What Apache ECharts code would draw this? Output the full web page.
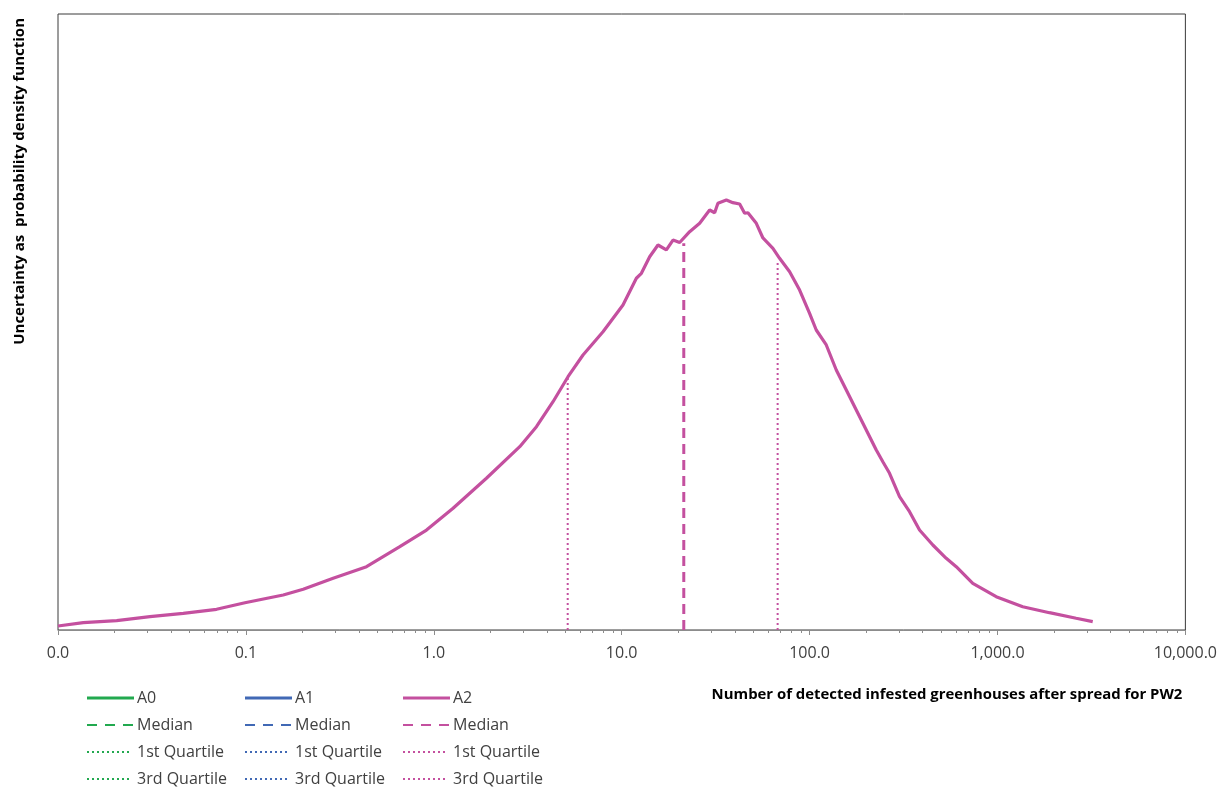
<!DOCTYPE html>
<html>
<head>
<meta charset="utf-8">
<script src="https://cdn.jsdelivr.net/npm/echarts@6/dist/echarts.min.js"></script>
<style>
  html, body { margin: 0; padding: 0; background: #ffffff; }
  #chart { width: 1220px; height: 787px; }
</style>
</head>
<body>
<div id="chart"></div>
<script>
// A2 uncertainty curve: number of detected infested greenhouses vs. relative density
const curveX = [
  0.0100, 0.01363, 0.02053, 0.03086, 0.0464, 0.0698, 0.0988, 0.158, 0.2018, 0.2913,
  0.4385, 0.6594, 0.9146, 1.2666, 1.906, 2.867, 3.518, 4.311, 5.18, 6.225,
  7.953, 10.16, 11.97, 12.73, 14.09, 15.60, 17.29, 18.75, 20.35, 23.00,
  26.00, 29.38, 31.24, 32.52, 36.06, 39.08, 42.44, 45.11, 46.97, 52.05,
  56.44, 63.8, 69.24, 78.3, 88.5, 100, 108.5, 122.7, 138.7, 156.8,
  177.2, 200.3, 226.4, 245.4, 266.4, 301.1, 340.4, 384.7, 452.8, 533.6,
  603.2, 738.9, 984.2, 1363, 1890, 2622, 3213
];
const curveY = [
  0.0065, 0.0119, 0.0151, 0.0216, 0.0271, 0.0336, 0.0443, 0.0568, 0.0661, 0.0839,
  0.1028, 0.1352, 0.1623, 0.1976, 0.2463, 0.2976, 0.3300, 0.3706, 0.4112, 0.4464,
  0.4843, 0.5276, 0.5710, 0.5790, 0.6060, 0.6250, 0.6170, 0.6330, 0.6290, 0.6466,
  0.6602, 0.6818, 0.6774, 0.6927, 0.6980, 0.6937, 0.6916, 0.6765, 0.6774, 0.6602,
  0.6364, 0.6196, 0.6034, 0.5817, 0.5519, 0.5141, 0.4870, 0.4627, 0.4221, 0.3896,
  0.3571, 0.3247, 0.2922, 0.2732, 0.2544, 0.2164, 0.1920, 0.1623, 0.1380, 0.1164,
  0.1028, 0.0758, 0.0541, 0.0378, 0.0281, 0.0190, 0.0135
];

// Median and quartile markers for A2 (position on x, height where the line stops)
const markerNames = ['Median', '1st Quartile', '3rd Quartile'];
const markerX = [21.4, 5.16, 67.6];
const markerTop = [0.628, 0.411, 0.596];

// Decade ticks and their printed labels
const tickValues = [0.01, 0.1, 1, 10, 100, 1000, 10000];
const tickLabels = ['0.0', '0.1', '1.0', '10.0', '100.0', '1,000.0', '10,000.0'];

const legendNames = ['A0', 'A1', 'A2'];
const legendColors = ['#22a94f', '#4169b5', '#c4509f'];
const legendRowLabels = ['', 'Median', '1st Quartile', '3rd Quartile'];

const FONT = '"Open Sans", Lato, "DejaVu Sans", sans-serif';
const TEXT = '#404040';
const AXIS = '#8c8c8c';
const A2 = legendColors[2];

function labelFor(v) {
  const i = tickValues.findIndex(t => Math.abs(Math.log10(t) - Math.log10(v)) < 1e-6);
  return i >= 0 ? tickLabels[i] : '';
}

// Legend drawn as a 3 x 4 block of swatches below the plot
const legendColX = [87, 245, 403];
const legendRowY = [698, 725, 752, 779];
const rowStyles = [
  { width: 3.2, dash: null, len: 47 },
  { width: 2, dash: [10, 8], len: 47 },
  { width: 2, dash: [2, 3], len: 44 },
  { width: 2, dash: [2, 3], len: 44 }
];
const legendGraphics = [];
legendColX.forEach((x0, c) => {
  legendRowY.forEach((y, r) => {
    const st = rowStyles[r];
    legendGraphics.push({
      type: 'line',
      shape: { x1: x0, y1: y, x2: x0 + st.len, y2: y },
      style: { stroke: legendColors[c], lineWidth: st.width, lineDash: st.dash || null }
    });
    legendGraphics.push({
      type: 'text',
      x: x0 + 50,
      y: y,
      style: {
        text: r === 0 ? legendNames[c] : legendRowLabels[r],
        fill: TEXT,
        font: '16px ' + FONT,
        align: 'left',
        verticalAlign: 'middle'
      }
    });
  });
});

const markerSeries = markerNames.map((name, i) => ({
  name: name,
  type: 'line',
  data: [[markerX[i], 0], [markerX[i], markerTop[i]]],
  symbol: 'none',
  silent: true,
  z: 1,
  lineStyle: {
    color: A2,
    width: i === 0 ? 3 : 2,
    type: i === 0 ? [10, 6] : [2, 3]
  }
}));

const chart = echarts.init(document.getElementById('chart'), null, { renderer: 'canvas' });
chart.setOption({
  animation: false,
  backgroundColor: '#ffffff',
  grid: {
    left: 58, right: 34, top: 14, bottom: 157,
    show: true, borderColor: '#3a3a3a', borderWidth: 1, backgroundColor: 'transparent'
  },
  xAxis: {
    type: 'log',
    logBase: 10,
    min: 0.01,
    max: 10000,
    axisLine: { show: true, lineStyle: { color: AXIS, width: 1 } },
    axisTick: { show: true, length: 5, lineStyle: { color: AXIS } },
    minorTick: { show: true, splitNumber: 9, length: 3, lineStyle: { color: AXIS } },
    splitLine: { show: false },
    axisLabel: {
      formatter: labelFor,
      color: TEXT,
      fontFamily: FONT,
      fontSize: 16,
      margin: 15
    },
    name: 'Number of detected infested greenhouses after spread for PW2',
    nameLocation: 'end',
    nameGap: -3,
    nameTextStyle: {
      fontFamily: FONT,
      fontWeight: 'bold',
      fontSize: 14.9,
      color: '#000000',
      align: 'right',
      verticalAlign: 'top',
      padding: [57, 0, 0, 0]
    }
  },
  yAxis: {
    type: 'value',
    min: 0,
    max: 1,
    axisLine: { show: false },
    axisTick: { show: false },
    axisLabel: { show: false },
    splitLine: { show: false }
  },
  graphic: [
    {
      type: 'text',
      x: 20,
      y: 18,
      rotation: Math.PI / 2,
      style: {
        text: 'Uncertainty as  probability density function',
        fill: '#000000',
        font: 'bold 15px ' + FONT,
        align: 'right',
        verticalAlign: 'middle'
      }
    }
  ].concat(legendGraphics),
  series: [
    {
      name: 'A2',
      type: 'line',
      data: curveX.map((x, i) => [x, curveY[i]]),
      symbol: 'none',
      z: 3,
      lineStyle: { color: A2, width: 3.2 }
    }
  ].concat(markerSeries)
});
</script>
</body>
</html>
